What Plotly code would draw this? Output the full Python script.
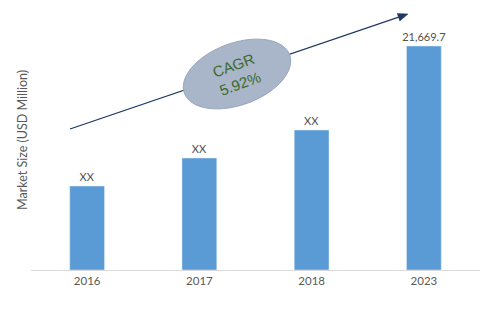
import numpy as np
import plotly.graph_objects as go

# Market size by year (USD Million)
years = ["2016", "2017", "2018", "2023"]
values = [8126, 10835, 13544, 21669.7]
value_labels = ["XX", "XX", "XX", "21,669.7"]
cagr_text = "CAGR<br>5.92%"
y_title = "Market Size (USD Million)"

W, H = 498, 332
L, R, T, B = 31, 18, 20, 62
pw, ph = W - L - R, H - T - B

def to_paper(px, py):
    return (px - L) / pw, (H - B - py) / ph

FONT = "Lato, Open Sans, Liberation Sans, sans-serif"

fig = go.Figure(go.Bar(
    x=years, y=values,
    marker_color="#5b9bd5",
    text=value_labels, textposition="outside",
    constraintext="none",
    textfont=dict(color="#505050", size=11),
    cliponaxis=False,
))

# growth arrow (line + head) drawn as shapes so the badge sits on top
x0, y0, x1, y1 = 70, 129, 408, 14
d = np.array([x1 - x0, y1 - y0], float)
d /= np.linalg.norm(d)
n = np.array([-d[1], d[0]])
tip = np.array([x1, y1], float)
base = tip - d * 10
p1, p2 = base + n * 4, base - n * 4
lx0, ly0 = to_paper(x0, y0)
lx1, ly1 = to_paper(*(tip - d * 6))
fig.add_shape(type="line", x0=lx0, y0=ly0, x1=lx1, y1=ly1,
              xref="paper", yref="paper",
              line=dict(color="#1f3864", width=1.3), layer="above")
head = [to_paper(*p) for p in (tip, p1, p2)]
fig.add_shape(type="path", xref="paper", yref="paper", layer="above",
              path="M " + " L ".join(f"{x:.4f},{y:.4f}" for x, y in head) + " Z",
              fillcolor="#1f3864", line=dict(color="#1f3864", width=0.5))

# rotated ellipse badge behind the CAGR text
cx, cy, a, b, ang = 237, 74, 56, 31, np.deg2rad(-20)
t = np.linspace(0, 2 * np.pi, 97)
ex = cx + a * np.cos(t) * np.cos(ang) - b * np.sin(t) * np.sin(ang)
ey = cy + a * np.cos(t) * np.sin(ang) + b * np.sin(t) * np.cos(ang)
pts = [to_paper(x, y) for x, y in zip(ex, ey)]
fig.add_shape(type="path", xref="paper", yref="paper", layer="above",
              path="M " + " L ".join(f"{x:.4f},{y:.4f}" for x, y in pts) + " Z",
              fillcolor="#a9b5c8", line=dict(color="#98a6bc", width=1))
tx, ty = to_paper(cx, cy)
fig.add_annotation(
    x=tx, y=ty, xref="paper", yref="paper", showarrow=False,
    xanchor="center", yanchor="middle",
    text=cagr_text, textangle=-20,
    font=dict(color="#3d6b2c", size=15, family="Liberation Sans, Arial, sans-serif"),
)

# vertical axis title
ax_x, ax_y = to_paper(22, 140)
fig.add_annotation(
    x=ax_x, y=ax_y, xref="paper", yref="paper", showarrow=False,
    xanchor="center", yanchor="middle", textangle=-90,
    text=y_title, font=dict(size=12.5, color="#595959"),
)

fig.update_layout(
    width=W, height=H,
    margin=dict(l=L, r=R, t=T, b=B),
    paper_bgcolor="white", plot_bgcolor="white",
    bargap=0.69, showlegend=False,
    font=dict(family=FONT, color="#595959", size=11),
    xaxis=dict(showline=True, linecolor="#d9d9d9", linewidth=1, ticks="",
               tickfont=dict(size=11.5, color="#595959")),
    yaxis=dict(range=[0, 21669.7 * ph / 224], showticklabels=False,
               showgrid=False, zeroline=False),
)

fig.write_html("out.html")
